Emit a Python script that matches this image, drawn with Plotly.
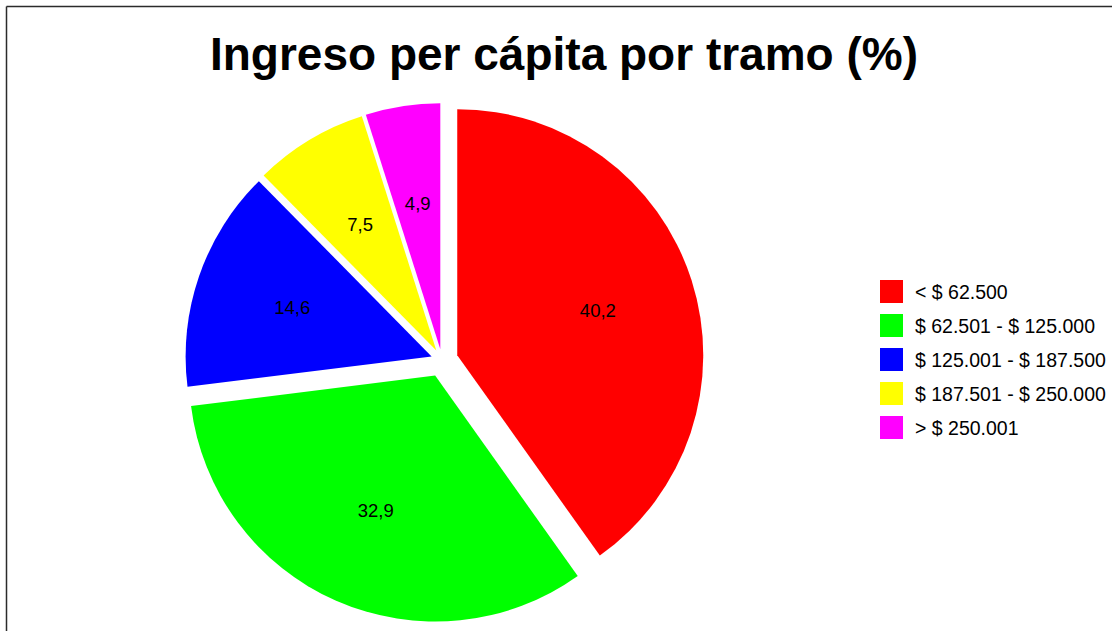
import plotly.graph_objects as go

# ---------------- data ----------------
labels = ["< $ 62.500", "$ 62.501 - $ 125.000", "$ 125.001 - $ 187.500",
          "$ 187.501 - $ 250.000", "> $ 250.001"]
values = [40.2, 32.9, 14.6, 7.5, 4.9]
colors = ["#FF0000", "#00FF00", "#0000FF", "#FFFF00", "#FF00FF"]
title_text = "Ingreso per cápita por tramo (%)"

# ---------------- layout geometry (pixels) ----------------
FIG_W, FIG_H = 1112, 631
CX, CY = 442, 360            # pie centre
R_TARGET = 246               # pie radius
pull_px = [16, 17, 11, 11, 11]   # explode distance of each slice
LABEL_R = 0.6                # labels at 0.6 of the radius from slice apex
FONT = "Arial, Liberation Sans, sans-serif"

maxp = max(pull_px) / R_TARGET
D = round(R_TARGET * (1 + maxp))   # half size of the pie domain
R = D / (1 + maxp)
L, T = CX - D, CY - D
W = H = 2 * D

def px_x(px):
    return (px - L) / W

def px_y(py):
    return (T + H - py) / H

value_text = [f"{v:.1f}".replace(".", ",") for v in values]

fig = go.Figure()

# main pie (the coloured slices)
fig.add_trace(go.Pie(
    labels=labels, values=values, sort=False, direction="clockwise", rotation=0,
    marker=dict(colors=colors, line=dict(width=0)),
    pull=[p / R for p in pull_px],
    textinfo="none", showlegend=False,
    domain=dict(x=[0, 1], y=[0, 1]),
    hovertemplate="%{label}: %{value}<extra></extra>",
))

# transparent ring pie that only carries the value labels
hole = 0.735
rc = (1 + hole) / 2
R2 = LABEL_R * R / rc
pull2 = [p / R2 for p in pull_px]
D2 = R2 * (1 + max(pull2))
half = D2 / W
fig.add_trace(go.Pie(
    labels=labels, values=values, sort=False, direction="clockwise", rotation=0,
    hole=hole,
    marker=dict(colors=["rgba(0,0,0,0)"] * len(values), line=dict(width=0)),
    pull=pull2,
    text=value_text, textinfo="text", textposition="inside",
    insidetextorientation="horizontal",
    textfont=dict(family=FONT, size=18.5, color="black"),
    showlegend=False, hoverinfo="skip",
    domain=dict(x=[0.5 - half, 0.5 + half], y=[0.5 - half, 0.5 + half]),
))

# ---------------- manual legend ----------------
shapes = []
annotations = []
leg_x0, leg_sq = 880, 23
leg_y0, leg_dy = 291.5, 34
for i, (lab, col) in enumerate(zip(labels, colors)):
    yc = leg_y0 + i * leg_dy
    shapes.append(dict(type="rect", xref="paper", yref="paper",
                       x0=px_x(leg_x0), x1=px_x(leg_x0 + leg_sq),
                       y0=px_y(yc + leg_sq / 2), y1=px_y(yc - leg_sq / 2),
                       fillcolor=col, line=dict(width=0)))
    annotations.append(dict(xref="paper", yref="paper", x=px_x(913), y=px_y(yc),
                            text=lab, showarrow=False, xanchor="left", yanchor="middle",
                            font=dict(family=FONT, size=19.5, color="black")))

# frame lines (left and top)
bx, by = 6.5, 6.5
shapes.append(dict(type="line", xref="paper", yref="paper",
                   x0=px_x(bx), x1=px_x(bx), y0=px_y(FIG_H + 5), y1=px_y(by),
                   line=dict(color="#2b2b2b", width=1.5)))
shapes.append(dict(type="line", xref="paper", yref="paper",
                   x0=px_x(bx), x1=px_x(FIG_W + 5), y0=px_y(by), y1=px_y(by),
                   line=dict(color="#2b2b2b", width=1.5)))

fig.update_layout(
    width=FIG_W, height=FIG_H,
    margin=dict(l=L, r=FIG_W - (CX + D), t=T, b=FIG_H - (CY + D), autoexpand=False),
    paper_bgcolor="white", plot_bgcolor="white",
    title=dict(text=f"<b>{title_text}</b>", x=564 / FIG_W, xref="container",
               xanchor="center", y=1 - 54 / FIG_H, yref="container", yanchor="middle",
               font=dict(family=FONT, size=46, color="black")),
    shapes=shapes, annotations=annotations,
    showlegend=False,
)

fig.write_html("out.html", config={"displayModeBar": False},
               post_script="document.body.style.margin='0';document.body.style.overflow='hidden';")
